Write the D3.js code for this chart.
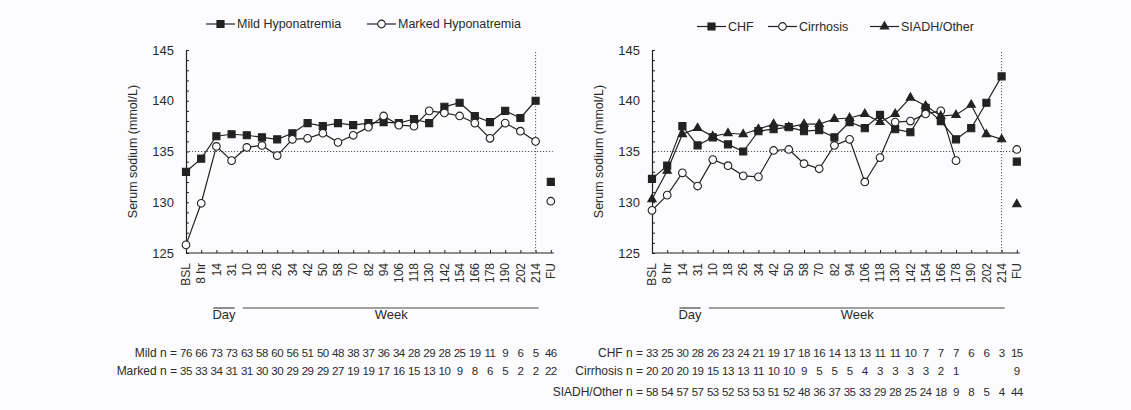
<!DOCTYPE html>
<html><head><meta charset="utf-8">
<script src="https://cdn.jsdelivr.net/npm/d3@7"></script>
<style>
html,body{margin:0;padding:0;background:#fcfcfe;}
svg{display:block;font-family:"Liberation Sans",Arial,sans-serif;}
</style></head>
<body>
<svg id="chart" width="1131" height="410"></svg>
<script>
// ---------- DATA ----------
const categories = ["BSL","8 hr","14","31","10","18","26","34","42","50","58","70","82","94","106","118","130","142","154","166","178","190","202","214","FU"];
const yTicks = [125,130,135,140,145];

const mild   = [133.0,134.3,136.5,136.7,136.6,136.4,136.2,136.8,137.8,137.5,137.8,137.6,137.8,137.9,137.8,138.2,137.8,139.4,139.8,138.5,137.9,139.0,138.3,140.0];
const mildFU = 132.0;
const marked   = [125.8,129.9,135.5,134.1,135.4,135.6,134.6,136.2,136.3,136.8,135.9,136.6,137.4,138.5,137.6,137.5,139.0,138.8,138.5,137.8,136.3,137.8,137.0,136.0];
const markedFU = 130.1;

const chf   = [132.3,133.6,137.5,135.6,136.4,135.7,135.0,137.0,137.2,137.4,137.0,137.1,136.4,137.9,137.3,138.6,137.2,136.9,139.3,138.0,136.2,137.3,139.8,142.4];
const chfFU = 134.0;
const cirrhosis   = [129.2,130.7,132.9,131.6,134.2,133.6,132.6,132.5,135.1,135.2,133.8,133.3,135.6,136.2,132.0,134.4,137.9,138.0,138.7,139.0,134.1];
const cirrhosisFU = 135.2;
const siadh   = [130.3,133.1,136.7,137.3,136.5,136.8,136.7,137.2,137.7,137.4,137.7,137.7,138.2,138.3,138.7,137.9,138.7,140.3,139.5,138.5,138.6,139.6,136.7,136.2];
const siadhFU = 129.8;

const nMild      = [76,66,73,73,63,58,60,56,51,50,48,38,37,36,34,28,29,28,25,19,11,9,6,5,46];
const nMarked    = [35,33,34,31,31,30,30,29,29,29,27,19,19,17,16,15,13,10,9,8,6,5,2,2,22];
const nCHF       = [33,25,30,28,26,23,24,21,19,17,18,16,14,13,13,11,11,10,7,7,7,6,6,3,15];
const nCirrhosis = [20,20,20,19,15,13,13,11,10,10,9,5,5,5,4,3,3,3,3,2,1,"","","",9];
const nSIADH     = [58,54,57,57,53,52,53,53,51,52,48,36,37,35,33,29,28,25,24,18,9,8,5,4,44];

// ---------- DRAW ----------
const svg = d3.select("#chart");
const INK = "#222";
const TXT = "#2b2b2b";

const markerDefs = {
  square:   {type:d3.symbolSquare,   size:50, fill:INK},
  circle:   {type:d3.symbolCircle,   size:46, fill:"#fcfcfe"},
  triangle: {type:d3.symbolTriangle, size:30, fill:INK}
};

function drawPanel(opt){
  const g = svg.append("g");
  const x = d3.scalePoint().domain(categories).range([opt.x0, opt.x0 + 24*15.2]);
  const y = d3.scaleLinear().domain([125,145]).range([253,50]);

  // reference lines
  g.append("line").attr("x1",x("BSL")).attr("x2",x("FU")+2)
    .attr("y1",y(135)).attr("y2",y(135))
    .attr("stroke","#555").attr("stroke-width",1).attr("stroke-dasharray","1.2,1.8");
  g.append("line").attr("x1",x("214")).attr("x2",x("214"))
    .attr("y1",y(145)+2).attr("y2",y(125))
    .attr("stroke","#555").attr("stroke-width",1).attr("stroke-dasharray","1.2,1.8");

  // y axis
  const ya = g.append("g").attr("transform",`translate(${opt.x0},0)`)
    .call(d3.axisLeft(y).tickValues(d3.range(125,146,1)).tickSize(-3).tickSizeOuter(0).tickPadding(12)
      .tickFormat(d => yTicks.includes(d) ? d : ""));
  ya.selectAll(".tick line").attr("stroke",INK);
  ya.select(".domain").attr("stroke",INK).attr("stroke-width",1.2);
  ya.selectAll("text").attr("fill",TXT).attr("font-size",13);

  // x axis
  const xa = g.append("g").attr("transform",`translate(0,${y(125)})`)
    .call(d3.axisBottom(x).tickSize(-3).tickSizeOuter(0).tickFormat(""));
  xa.selectAll(".tick line").attr("stroke",INK);
  xa.select(".domain").attr("stroke",INK).attr("stroke-width",1.2)
    .attr("d",`M${x("BSL")},0H${x("FU")+3}`);

  // x labels (rotated)
  g.selectAll(".xl").data(categories).enter().append("text")
    .attr("transform", d => `translate(${x(d)},${y(125)+10}) rotate(-90)`)
    .attr("text-anchor","end").attr("dy","0.35em")
    .attr("font-size",12).attr("fill",TXT).text(d => d);

  // Day / Week brackets
  const by = 308;
  g.append("line").attr("x1",x("14")-3).attr("x2",x("31")+3).attr("y1",by).attr("y2",by)
    .attr("stroke","#444").attr("stroke-width",1.2);
  g.append("line").attr("x1",x("10")-4).attr("x2",x("214")+3).attr("y1",by).attr("y2",by)
    .attr("stroke","#444").attr("stroke-width",1.2);
  g.append("text").attr("x",(x("14")+x("31"))/2).attr("y",by+11).attr("text-anchor","middle")
    .attr("font-size",13).attr("fill",TXT).text("Day");
  g.append("text").attr("x",(x("10")+x("214"))/2).attr("y",by+11).attr("text-anchor","middle")
    .attr("font-size",13).attr("fill",TXT).text("Week");

  // y title
  g.append("text").attr("transform",`translate(${opt.x0-49},${(y(125)+y(145))/2}) rotate(-90)`)
    .attr("text-anchor","middle").attr("font-size",12.5).attr("fill",TXT).text("Serum sodium (mmol/L)");

  // series
  const line = d3.line().x((d,i) => x(categories[i])).y(d => y(d));
  opt.series.forEach(s => {
    g.append("path").datum(s.values).attr("d",line)
      .attr("fill","none").attr("stroke",INK).attr("stroke-width",1.2);
    const m = markerDefs[s.marker];
    const sym = d3.symbol().type(m.type).size(m.size);
    const pts = s.values.map((v,i) => ({c:categories[i], v}));
    pts.push({c:"FU", v:s.fu});
    g.selectAll(null).data(pts).enter().append("path")
      .attr("d",sym).attr("transform",d => `translate(${x(d.c)},${y(d.v)})`)
      .attr("fill",m.fill).attr("stroke",INK).attr("stroke-width",1.1);
  });

  // legend
  opt.legend.forEach(l => {
    const m = markerDefs[l.marker];
    g.append("line").attr("x1",l.x).attr("x2",l.x+29).attr("y1",opt.ly).attr("y2",opt.ly)
      .attr("stroke",INK).attr("stroke-width",1.2);
    g.append("path").attr("d",d3.symbol().type(m.type).size(m.size))
      .attr("transform",`translate(${l.x+14.5},${opt.ly})`)
      .attr("fill",m.fill).attr("stroke",INK).attr("stroke-width",1.1);
    g.append("text").attr("x",l.x+31).attr("y",opt.ly).attr("dy","0.35em")
      .attr("font-size",12.5).attr("fill",TXT).text(l.label);
  });

  // n table
  opt.table.forEach(r => {
    g.append("text").attr("x",opt.x0-9).attr("y",r.y).attr("dy","0.35em")
      .attr("text-anchor","end").attr("font-size",12).attr("fill",TXT).text(r.label);
    g.selectAll(null).data(r.values).enter().append("text")
      .attr("x",(d,i) => x(categories[i])).attr("y",r.y).attr("dy","0.35em")
      .attr("text-anchor","middle").attr("font-size",11.5).attr("letter-spacing","-0.5")
      .attr("fill",TXT).text(d => d);
  });
}

drawPanel({
  x0:186, ly:24,
  series:[
    {values:mild, fu:mildFU, marker:"square"},
    {values:marked, fu:markedFU, marker:"circle"}
  ],
  legend:[
    {x:206, marker:"square", label:"Mild Hyponatremia"},
    {x:367, marker:"circle", label:"Marked Hyponatremia"}
  ],
  table:[
    {label:"Mild n =", values:nMild, y:353},
    {label:"Marked n =", values:nMarked, y:371}
  ]
});

drawPanel({
  x0:652, ly:26.5,
  series:[
    {values:chf, fu:chfFU, marker:"square"},
    {values:cirrhosis, fu:cirrhosisFU, marker:"circle"},
    {values:siadh, fu:siadhFU, marker:"triangle"}
  ],
  legend:[
    {x:697, marker:"square", label:"CHF"},
    {x:768, marker:"circle", label:"Cirrhosis"},
    {x:870, marker:"triangle", label:"SIADH/Other"}
  ],
  table:[
    {label:"CHF n =", values:nCHF, y:353},
    {label:"Cirrhosis n =", values:nCirrhosis, y:371},
    {label:"SIADH/Other n =", values:nSIADH, y:392}
  ]
});
</script>
</body></html>
